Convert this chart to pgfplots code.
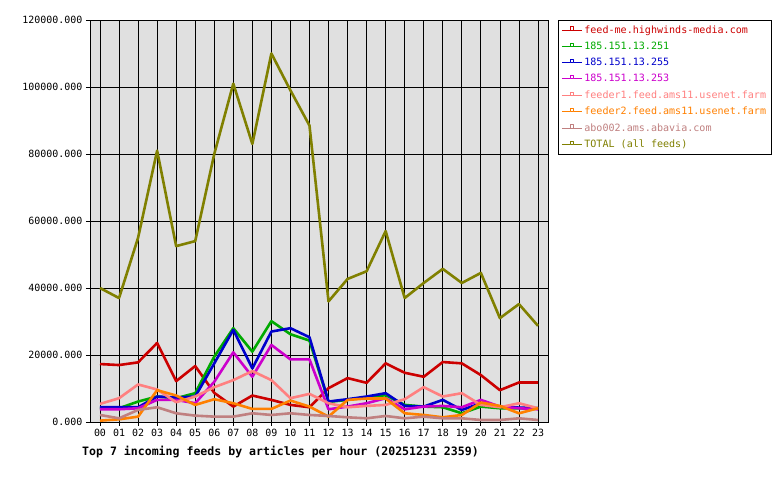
\documentclass[border=0pt]{standalone}
\usepackage{pgfplots}
\pgfplotsset{compat=1.18}
\usepackage{fontspec}
\setmainfont{DejaVu Sans Mono}
\setmonofont{DejaVu Sans Mono}
\definecolor{cred}{HTML}{CC0000}
\definecolor{cgreen}{HTML}{00AA00}
\definecolor{cblue}{HTML}{0000CC}
\definecolor{cmag}{HTML}{CC00CC}
\definecolor{cpink}{HTML}{FF8080}
\definecolor{corange}{HTML}{FF8000}
\definecolor{cabo}{HTML}{C08080}
\definecolor{colive}{HTML}{808000}
\definecolor{bggray}{HTML}{E0E0E0}
\begin{document}
\begin{tikzpicture}
\path[use as bounding box] (0,0) rectangle (780bp,480bp);
\begin{axis}[
  at={(90bp,58bp)}, anchor=south west,
  scale only axis, width=458bp, height=402bp,
  xmin=-0.525, xmax=23.525, ymin=0, ymax=120000,
  axis background/.style={fill=bggray},
  axis line style={black, line width=0.8bp},
  xtick={0,...,23},
  xticklabels={00,01,02,03,04,05,06,07,08,09,10,11,12,13,14,15,16,17,18,19,20,21,22,23},
  ytick={0,20000,40000,60000,80000,100000,120000},
  yticklabel style={/pgf/number format/.cd, fixed, fixed zerofill, precision=3, 1000 sep={}, assume math mode=true},
  scaled y ticks=false,
  grid=major, major grid style={black, line width=0.8bp},
  tick align=outside, major tick length=4bp, tick style={black, line width=0.8bp},
  ticklabel style={font=\fontsize{10}{10}\selectfont},
  xtick pos=bottom, ytick pos=left,
  every axis plot/.append style={line width=2.6bp, no markers, line join=round},
  legend cell align=left,
  legend style={at={(1.0218,1.001)}, anchor=north west, draw=black, line width=0.8bp, fill=white,
    font=\fontsize{10.1}{10}\selectfont, inner xsep=3bp, inner ysep=3.5bp, row sep=3.3bp},
  legend image code/.code={
    \draw[line width=1.0bp] (0bp,0bp) -- (20bp,0bp);
    \draw[line width=0.8bp, fill=white] (8.3bp,0bp) rectangle (11.7bp,3.2bp);
  },
]
\addplot[cred] coordinates {(0,17300)(1,17000)(2,17800)(3,23600)(4,12200)(5,16700)(6,8700)(7,4600)(8,7900)(9,6600)(10,5100)(11,4400)(12,10100)(13,13100)(14,11700)(15,17500)(16,14700)(17,13500)(18,17900)(19,17500)(20,14000)(21,9500)(22,11800)(23,11800)};
\addlegendentry{\textcolor{cred}{feed-me.highwinds-media.com}}
\addplot[cgreen] coordinates {(0,4100)(1,4100)(2,6100)(3,7600)(4,7100)(5,8600)(6,19500)(7,28000)(8,21000)(9,30100)(10,26200)(11,24300)(12,6000)(13,6600)(14,7400)(15,8000)(16,5100)(17,4600)(18,4400)(19,2600)(20,4600)(21,4100)(22,4100)(23,4100)};
\addlegendentry{\textcolor{cgreen}{185.151.13.251}}
\addplot[cblue] coordinates {(0,4400)(1,4400)(2,4400)(3,7600)(4,7300)(5,7600)(6,17500)(7,27500)(8,16000)(9,27000)(10,28000)(11,25300)(12,6100)(13,6800)(14,7600)(15,8600)(16,4800)(17,4600)(18,6600)(19,3600)(20,5600)(21,4600)(22,4300)(23,4100)};
\addlegendentry{\textcolor{cblue}{185.151.13.255}}
\addplot[cmag] coordinates {(0,3800)(1,3800)(2,4100)(3,6600)(4,6600)(5,5600)(6,12000)(7,20800)(8,13500)(9,23000)(10,18700)(11,18700)(12,3800)(13,4600)(14,5600)(15,7100)(16,3800)(17,4600)(18,4800)(19,4400)(20,6600)(21,4600)(22,4100)(23,3800)};
\addlegendentry{\textcolor{cmag}{185.151.13.253}}
\addplot[cpink] coordinates {(0,5400)(1,7100)(2,11200)(3,9700)(4,5900)(5,7600)(6,10400)(7,12500)(8,15200)(9,12500)(10,7100)(11,8400)(12,5600)(13,4400)(14,4800)(15,5100)(16,6800)(17,10400)(18,7600)(19,8600)(20,5100)(21,4400)(22,5600)(23,4100)};
\addlegendentry{\textcolor{cpink}{feeder1.feed.ams11.usenet.farm}}
\addplot[corange] coordinates {(0,400)(1,800)(2,1600)(3,9500)(4,7900)(5,5100)(6,6800)(7,5600)(8,3900)(9,3900)(10,6400)(11,4600)(12,1600)(13,6600)(14,7000)(15,7000)(16,2600)(17,2100)(18,1400)(19,2100)(20,5800)(21,4800)(22,2600)(23,4100)};
\addlegendentry{\textcolor{corange}{feeder2.feed.ams11.usenet.farm}}
\addplot[cabo] coordinates {(0,2100)(1,1100)(2,3600)(3,4400)(4,2600)(5,1900)(6,1600)(7,1600)(8,2600)(9,2100)(10,2600)(11,2100)(12,1800)(13,1400)(14,1100)(15,1800)(16,1100)(17,1600)(18,1100)(19,1100)(20,600)(21,600)(22,1100)(23,600)};
\addlegendentry{\textcolor{cabo}{abo002.ams.abavia.com}}
\addplot[colive] coordinates {(0,40000)(1,37000)(2,55000)(3,81000)(4,52500)(5,54000)(6,80000)(7,101000)(8,83000)(9,110000)(10,99000)(11,88500)(12,36000)(13,42700)(14,45000)(15,57000)(16,37000)(17,41500)(18,45700)(19,41500)(20,44500)(21,31000)(22,35200)(23,28700)};
\addlegendentry{\textcolor{colive}{TOTAL (all feeds)}}
\end{axis}
\node[anchor=west, inner sep=0pt, font=\fontsize{11.6}{12}\selectfont\bfseries] at (82bp,28bp) {Top 7 incoming feeds by articles per hour (20251231 2359)};
\end{tikzpicture}
\end{document}
